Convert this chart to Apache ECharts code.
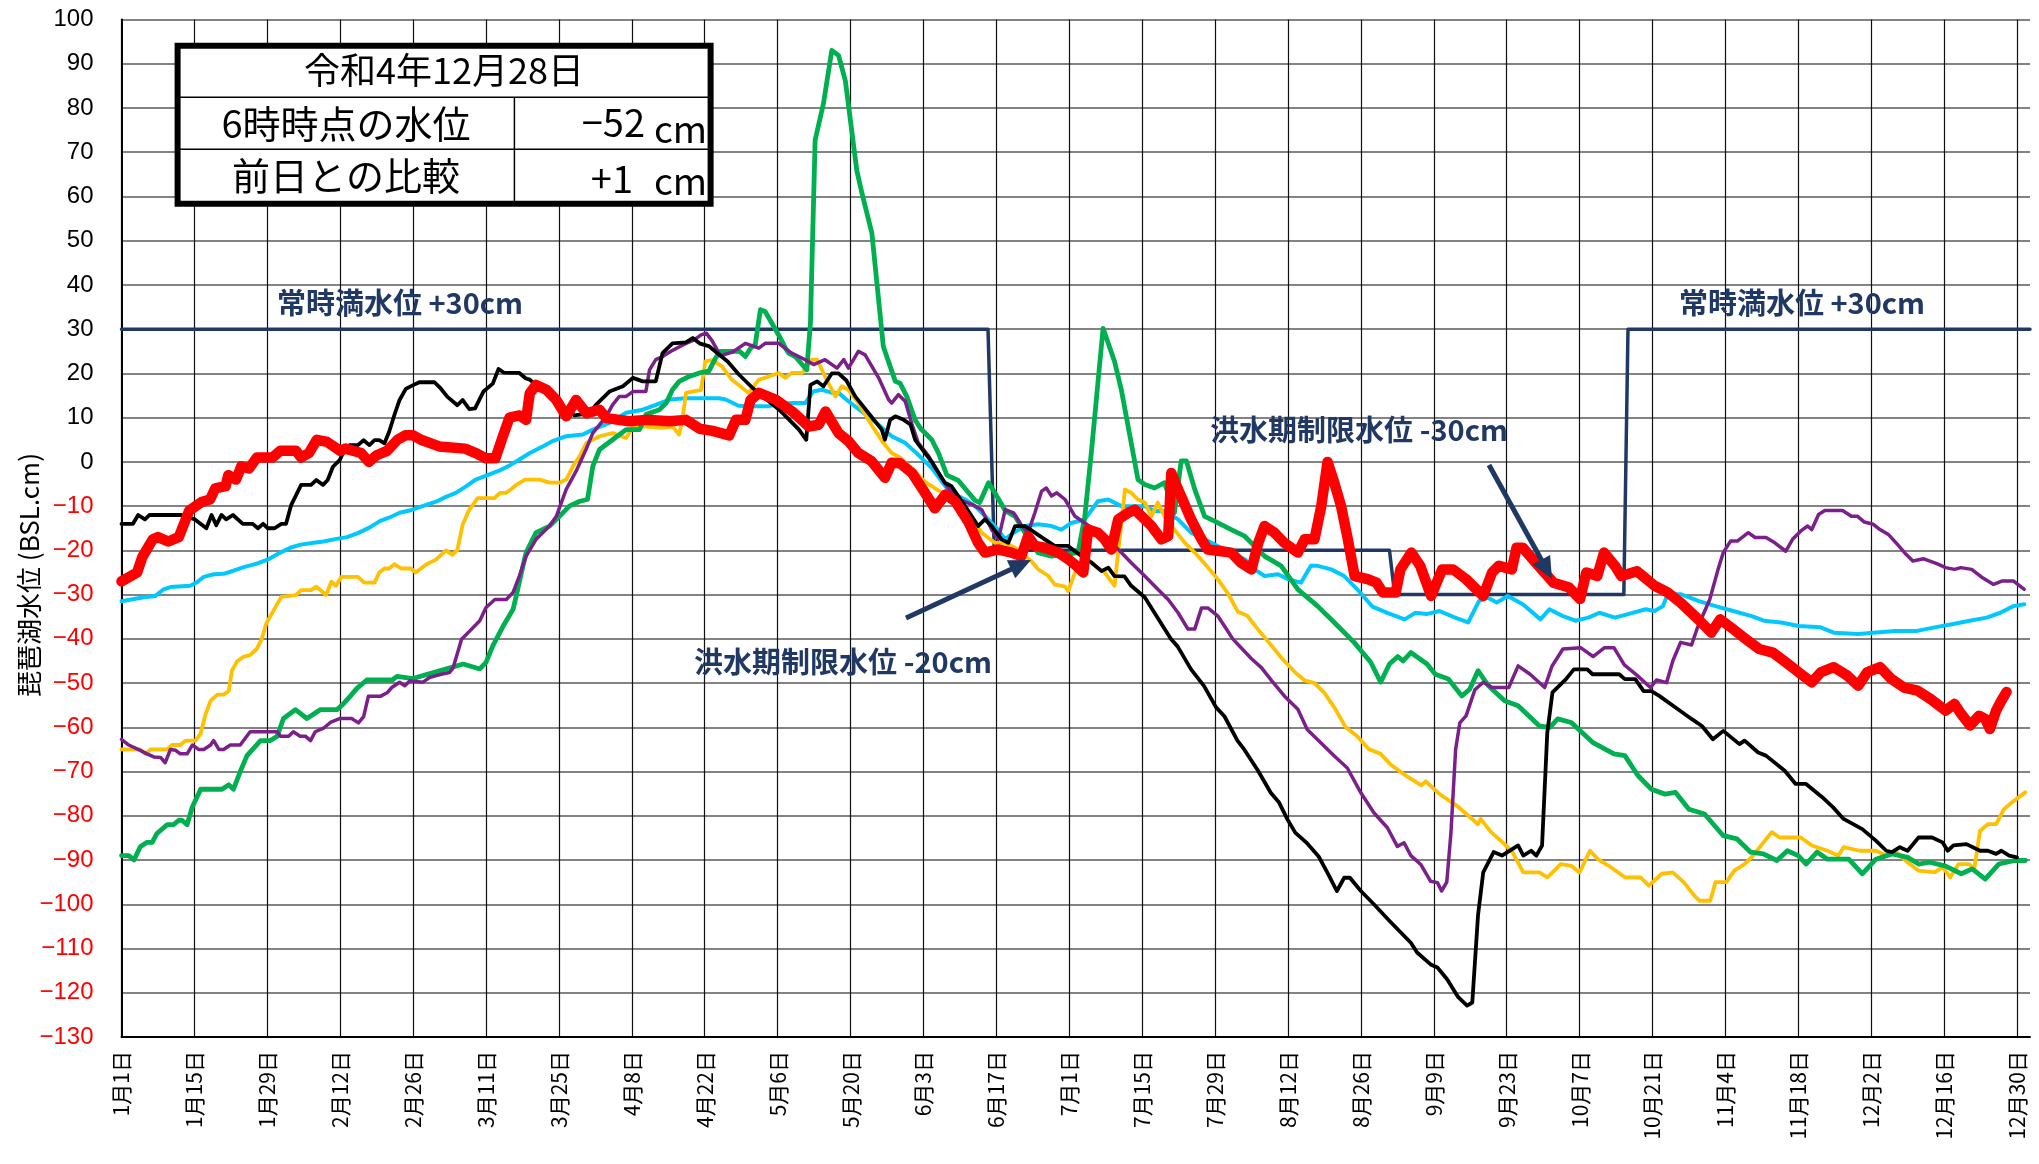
<!DOCTYPE html>
<html><head><meta charset="utf-8">
<script src="https://cdn.jsdelivr.net/npm/echarts/dist/echarts.min.js"></script>
<style>html,body{margin:0;padding:0;background:#fff}#c{width:2039px;height:1164px}</style>
</head><body><div id="c"></div>
<script>
// ---- axis / tick labels ----
const tickLabels = ['1月1日','1月15日','1月29日','2月12日','2月26日','3月11日','3月25日','4月8日','4月22日','5月6日','5月20日','6月3日','6月17日','7月1日','7月15日','7月29日','8月12日','8月26日','9月9日','9月23日','10月7日','10月21日','11月4日','11月18日','12月2日','12月16日','12月30日'];
const tickStepDays = 14;
const yMin = -130, yMax = 100, yStep = 10;
const xMax = 366.5;

// ---- data: [day index from 1月1日, level cm] ----
const regulation = [[0,30],[166.4,30],[167.6,-20],[243.5,-20],[244.5,-30],[288.5,-30],[289.3,30],[366.5,30]];

const yearRed = [[0,-27],[3,-25],[4,-21.5],[6,-17.5],[7,-17],[9,-18],[11,-17],[13,-11],[15.5,-9],[17,-8.5],[18,-6],[20,-5.5],[20.5,-3],[22,-4],[23,-1],[24.5,-1.5],[26,1],[29,1],[30.5,2.5],[33.5,2.5],[34.5,1],[36,2],[37.5,5],[39.5,4.5],[42,2.5],[43,3],[46,2],[47.5,0],[49,1.5],[51,2.5],[53,5],[54.5,6],[56,6],[57.5,5],[61,3.5],[66,3],[68,2],[70,0.8],[71.8,0.8],[73.3,6],[74.5,10],[76.4,10.5],[77.7,9.5],[78.4,15.5],[79.6,17.4],[81.6,16.3],[83.5,14],[85.4,10.3],[87.3,14],[89.3,11],[91.8,11.8],[93.1,9.9],[97.5,9.2],[100.7,9.5],[105.2,9.2],[108.4,9.5],[111,7.5],[113.5,7],[116.7,6],[118,9.5],[119.8,9.5],[120.8,14],[122.4,15.6],[125.6,14.1],[128.8,11.4],[132,8],[133.9,8.4],[135.2,11.4],[137.7,6.5],[139.6,4.7],[141.5,2],[144,0.2],[146.6,-3.6],[147.9,-0.2],[149.5,-0.3],[151.8,-2.5],[154.3,-7],[156.2,-10.5],[158.2,-7.4],[160.1,-8.9],[162.6,-13.5],[164.5,-18.3],[165.8,-20.5],[168.3,-19.8],[170.9,-20.5],[172.8,-21.3],[174.1,-16.8],[175.4,-19],[177.3,-19.4],[179.9,-20.5],[181.8,-22],[183.1,-23.2],[184.7,-25],[185.6,-15.3],[187.5,-16],[188.8,-17.5],[190.1,-19.8],[191.4,-13],[193.3,-11.5],[194.6,-10.8],[195.9,-12.3],[197.8,-14.5],[199.7,-17.5],[201,-16.8],[201.6,-2.5],[202.9,-6.2],[205.4,-13],[207.4,-17.5],[208.6,-19.8],[211.2,-20.2],[213.1,-20.5],[215,-22.8],[217,-24.3],[218.3,-18.3],[219.5,-14.5],[221.4,-16],[223.3,-18.3],[225.9,-20.5],[227.2,-17.5],[229.1,-17.5],[230.4,-10],[231.6,0],[232.9,-4.7],[234.2,-10],[235.5,-17.5],[236.8,-25.8],[239.3,-26.5],[241,-27.3],[242.2,-29.5],[244.7,-29.5],[245.6,-24.3],[247.7,-20.5],[249.4,-23.5],[251.5,-30.3],[253.6,-24.3],[255.7,-24.3],[258.2,-26.5],[261.5,-30.3],[263.2,-25],[264.5,-23.5],[267,-24.3],[267.9,-19.4],[269.1,-19.4],[271.6,-22.8],[275,-27.3],[278,-28.4],[280.1,-31],[281.3,-25],[283.4,-25.8],[284.7,-20.5],[286.8,-23.5],[288,-25.8],[291,-24.7],[294.4,-28],[296.9,-29.5],[299.4,-31.8],[302.8,-35.6],[305.3,-38.6],[307,-35.6],[309.5,-37.8],[312,-40.1],[314.5,-42.3],[317.1,-43.1],[319.6,-45.3],[322.9,-48.3],[324.6,-49.8],[326.3,-47.6],[328.8,-46.4],[331.4,-48.3],[333.5,-50.6],[335.2,-47.6],[337.7,-46.4],[339.8,-49],[342.3,-51],[344.9,-51.7],[347.4,-53.6],[350.3,-56.2],[352,-54.7],[353.3,-57],[355,-59.6],[356.7,-57.4],[357.9,-58.1],[358.8,-60.4],[360,-56.2],[361,-54],[362,-52]];

const yearBlack = [[0,-14],[2.2,-14],[3.2,-12],[4.5,-13],[5.4,-12],[11.5,-12],[14.1,-13],[16.3,-15],[17.3,-12],[18.2,-14.3],[19.2,-12],[20.1,-13],[21.4,-12],[23.3,-14],[25.2,-14],[26.2,-15],[27.2,-14],[28.1,-15],[29.4,-15],[30.7,-14],[31.6,-14],[32.6,-9.7],[34.5,-5.2],[36.4,-5.2],[37.4,-4.1],[38.7,-5.2],[39.6,-4.1],[40.6,-1.1],[41.9,0.4],[42.5,1.9],[43.8,3.8],[45.4,3.8],[46.5,4.9],[47.6,3.8],[48.6,4.9],[49.5,4.9],[50.5,4.2],[51.4,6.8],[52.4,10.6],[53.4,14],[54.6,16.5],[55.9,17.3],[57.2,18],[60.1,18],[61.3,16.6],[62.6,14.7],[64.5,12.8],[65.5,14],[66.8,11.9],[67.9,12.1],[69.5,15.9],[71.3,17.7],[72.4,21],[73.4,20.2],[76.4,20.1],[77.6,18.9],[78.4,18.6],[83,14],[87,10.5],[90,11],[91.1,12.9],[93.7,15.9],[96.3,17.1],[98.2,19],[100.1,18.2],[102.6,18.2],[103.9,24.6],[105.8,26.8],[108.4,27],[109.7,28],[111,26.8],[112.9,26.1],[114.8,24.2],[116.4,22.7],[118.6,19.7],[121.2,16.7],[126.3,11.8],[130.1,7.3],[131.5,5],[132.3,17.4],[133.6,18.2],[134.8,17.1],[136.4,20],[137.7,20],[139.2,18.4],[140.9,14.8],[143.4,11.1],[146,7.3],[146.6,5],[147.6,9.5],[148.6,10.3],[150.2,9.5],[151.5,8.5],[152.4,5],[155.6,0],[158.1,-4.7],[159.4,-5.5],[162,-10],[164.5,-14.5],[165.8,-13],[167.1,-14.5],[169,-17.5],[170.3,-18.3],[171.6,-14.5],[173.5,-14.5],[175.4,-16],[177.3,-17.5],[179.2,-19],[181.8,-19],[183.1,-20.2],[184.4,-21.3],[186.3,-22.8],[188.2,-24.7],[189.5,-23.9],[190.7,-25.8],[192.6,-25.9],[193.9,-28],[196.5,-30.6],[199,-35.3],[201.5,-40],[202.8,-41.7],[205.4,-46.9],[207.9,-50.7],[210.2,-55.5],[211.8,-57.5],[214.3,-63],[215.6,-65],[218.2,-69.7],[220.7,-74.8],[222.3,-77],[223.9,-80.8],[225.4,-83.8],[227.5,-86],[229.9,-89.2],[231.6,-92.9],[233.4,-97],[234.8,-94],[235.9,-94],[238,-97],[240.5,-100],[243.7,-104],[247.6,-108.7],[248.8,-110.9],[251.4,-113.6],[252.7,-114.3],[254.6,-117],[256.7,-121],[258.4,-122.9],[259.4,-122.2],[260.5,-102.5],[261.5,-92.8],[263.5,-88.2],[265.1,-89],[268.2,-86.7],[269.2,-89],[270.7,-87.9],[271.7,-89],[272.8,-86.7],[273.8,-61.2],[274.8,-52.1],[277.4,-49.1],[278.9,-46.9],[281.5,-46.9],[282.5,-48],[287.6,-48],[288.7,-49.1],[290.7,-49.1],[292.3,-51.8],[293.8,-51.8],[295.3,-52.9],[298.9,-55.9],[301.5,-58.1],[303.5,-59.7],[305.6,-62.7],[307.6,-60.8],[310.7,-63.8],[311.7,-63],[314.3,-65.7],[315.8,-66.4],[319.4,-69.8],[321.5,-72.8],[323.5,-72.8],[326.6,-75.8],[328.7,-78.1],[330.7,-80.7],[334.3,-83],[336.9,-85.6],[338.9,-87.9],[340,-88.2],[341.5,-87.1],[343,-87.9],[345.1,-84.9],[347.7,-84.9],[349.7,-86],[350.7,-87.9],[351.8,-86.7],[354.3,-86.4],[356.9,-87.9],[358.4,-87.9],[360,-88.6],[361,-87.9],[362.5,-89],[364,-89.4]];

const yearGreen = [[0,-89],[1.4,-89],[2.4,-90],[3.6,-87],[4.9,-86],[5.9,-86],[6.8,-84],[8.8,-82],[10,-82],[11,-81],[11.6,-81],[12.6,-82],[13.6,-78],[15.2,-74],[19.3,-74],[20.6,-73],[21.5,-74],[22.8,-70],[24.1,-66.4],[25.4,-64.7],[26.7,-63],[28.6,-63],[29.9,-62],[31.1,-58],[33.4,-56],[35.6,-58],[38.2,-56],[41.4,-56],[42.6,-54.7],[43.9,-53],[45.2,-51.2],[47.1,-49.3],[52,-49.3],[52.9,-48.5],[56,-49],[57.9,-48.3],[62.4,-46.8],[65.6,-45.7],[68.8,-46.8],[70,-45.3],[71.3,-41.6],[73.3,-37.1],[75.2,-33.3],[75.8,-30.3],[77.1,-23.5],[77.7,-20.5],[79.6,-16],[82.2,-14.5],[84.1,-12.3],[86,-10],[88,-8.9],[89.5,-8.5],[90.5,-1],[91.8,2.8],[94.3,5],[96.9,7.3],[99.5,7.3],[100.7,10.7],[103.3,11.8],[104.6,13.3],[105.8,16.3],[107.1,18.2],[109,19.3],[111,20.1],[112.8,20.5],[114.1,23.5],[115,25],[118.7,25],[119.8,23.8],[120.8,25.7],[121.7,26.5],[122.7,34.4],[123.6,34],[126.2,28.7],[127.5,25.7],[128.1,24.6],[129.4,23.8],[130.7,22],[131.6,20.8],[132.3,31.4],[133.2,72.7],[134.8,81],[136.4,93],[137.7,91.9],[139,86.2],[141.2,65.9],[142.2,60.7],[144.1,51.7],[146.3,26.1],[148.6,18.2],[149.5,17.8],[150.8,14.8],[152.4,9.5],[153.5,7.5],[155.6,5],[156.9,2],[158.5,-3],[160.7,-4.2],[163.9,-8.7],[164.8,-9.2],[166.5,-4.7],[167.7,-7],[169.7,-11],[171.6,-12.3],[173.5,-16],[176,-20.5],[178.6,-21.3],[181.2,-20.9],[183.7,-20.5],[185,-12.3],[186.3,2.8],[187.5,17.8],[188.5,30.2],[190.7,22.7],[192,16.3],[193.9,4.3],[195.2,-4],[196.5,-5.1],[198.4,-5.9],[200.3,-4.7],[202.2,-11.5],[203.5,0.2],[204.5,0.2],[206.1,-6.2],[208,-12.3],[209.9,-13.4],[213.1,-15.3],[215.7,-16.8],[219.5,-21.3],[222.7,-23.5],[225.9,-28.8],[229.7,-32.6],[232.9,-36.3],[236.7,-40.8],[239.9,-45.3],[241.8,-49.8],[243.5,-45.7],[245.1,-44],[246.1,-45],[247.6,-43.1],[250.7,-45.7],[252.3,-48],[254.8,-49.1],[257.4,-52.9],[258.9,-51.4],[260.5,-47.2],[262.5,-50.6],[265.6,-54],[268.2,-55.1],[272.3,-59.7],[274.3,-60],[275.8,-58.1],[278.4,-58.9],[282.5,-63.4],[286.6,-66],[288.7,-66.4],[291.2,-70.9],[293.8,-74],[296.4,-75.1],[298.4,-74.7],[301,-78.5],[304,-79.6],[307.6,-84.5],[310.2,-85.2],[312.8,-88.2],[315.3,-88.6],[317.9,-90.1],[319.9,-87.9],[322,-89],[323.5,-90.9],[325.6,-88.2],[327.6,-89.8],[331.7,-89.8],[334.3,-93.1],[336.9,-89.8],[340,-88.6],[343,-89.4],[345.1,-90.9],[347.2,-90.5],[350.2,-91.3],[353.3,-93.1],[355.4,-92],[357.9,-94.3],[360.5,-90.9],[363.6,-90.1],[365.6,-90.1]];

const yearPurple = [[0,-62.7],[1.4,-64],[3.6,-65.2],[4.9,-66],[6.2,-66.7],[7.5,-66.8],[8.4,-68],[9.4,-65],[10.4,-65.2],[11.3,-66],[12.6,-66],[13.6,-64],[14.8,-65],[15.8,-65],[17.1,-64],[17.7,-63],[18.7,-65],[19.6,-65],[20.9,-64],[22.8,-64],[24.7,-61],[29.9,-61],[30.5,-62],[32.1,-62],[33,-61],[34.3,-62],[35.3,-62],[36.3,-63],[37.2,-61],[38.8,-60.2],[40.1,-58.9],[42,-58],[44.2,-58],[45.5,-59],[46.5,-57.6],[47.4,-53],[49.7,-53],[51,-52.2],[51.9,-51],[53.4,-49.8],[54.4,-50.6],[55.4,-49.5],[57.9,-49.8],[59.2,-48.7],[61.4,-48],[63,-47.6],[63.7,-46.5],[65.3,-40.1],[66.9,-38.2],[68.8,-35.9],[70,-32.9],[71.7,-31.1],[73.9,-31.1],[75.2,-29.5],[76.4,-25.8],[77.7,-21.3],[79.6,-17.5],[82.2,-14.5],[83.5,-12.3],[85.4,-6.2],[87.3,-2.1],[89.2,2.8],[90.5,6.5],[93.1,10.3],[94.3,12.9],[95.6,14.8],[96.9,14.8],[98.2,15.9],[100.7,15.9],[101.4,20.8],[102.6,23.1],[103.9,23.8],[105.5,25],[108.4,26.8],[110,27.6],[111.3,28.7],[112.3,29.1],[113.4,27.4],[115,24],[117.3,24.8],[119.8,26.8],[122.4,25.7],[123.6,26.8],[126.2,26.8],[128.7,24.6],[131.3,23.1],[132.9,22],[135.1,23.1],[137.4,21.2],[138.7,23.1],[139.6,21.2],[141.5,25],[142.8,24.2],[145.4,19],[147.3,14.1],[147.9,13.3],[149.2,15.2],[150.5,13.7],[151.8,8.5],[153,4.3],[155,1.3],[156.9,-2.5],[158.8,-6],[160.7,-8.5],[163.3,-9.6],[165.2,-10.8],[167.1,-15.3],[168.4,-17.5],[169.7,-10.8],[171.3,-11.5],[172.9,-14.5],[174.1,-16],[175.4,-11.5],[176.7,-6.6],[177.6,-5.9],[178.6,-7.7],[179.6,-7],[181.2,-8.5],[183.1,-12.3],[185,-13.8],[187.5,-16],[190.1,-18.3],[192,-20.5],[193.9,-22.8],[196.5,-25.8],[199,-28.8],[201,-31.1],[202.9,-34.1],[204.8,-37.8],[206.1,-37.8],[207.4,-33],[208.6,-33],[210.5,-34.8],[211.8,-37.1],[213.4,-40],[215,-42],[217,-44.5],[218.9,-46.5],[220.9,-49.5],[223.3,-52.9],[225.9,-55.9],[227.7,-60.5],[230.3,-63.5],[232.9,-66.5],[235.4,-69.2],[238,-74.8],[240.5,-79.3],[243.1,-82.7],[245,-86.9],[246.3,-86.1],[247.6,-89],[249.5,-91],[251.4,-94.8],[252.7,-95.1],[253.5,-97],[254.5,-95],[255.3,-83.8],[256.2,-65],[257,-59],[258.2,-57.4],[259.9,-51.5],[261.5,-49.8],[263.2,-51],[266.4,-51],[268.2,-46.1],[270.5,-48],[273.3,-51],[274.7,-46.2],[276.8,-42.3],[280.2,-42],[282.6,-44],[284.8,-42],[286.6,-42],[288.6,-45.9],[291,-48.2],[293.6,-51],[294.8,-49.3],[296.7,-49.9],[297.9,-45],[299.4,-40.8],[301.5,-41.4],[302.6,-37.6],[305,-31.1],[306.6,-24.3],[307.6,-20.5],[309,-17.9],[310.3,-17.9],[312.4,-16],[313.7,-17.1],[315.8,-17.1],[317.5,-18.3],[319.6,-20.2],[320.9,-17.5],[322.5,-15.6],[323.8,-14.5],[324.6,-15.3],[325.9,-11.9],[327.1,-11],[330.5,-11],[332.2,-12.3],[333.4,-12.3],[334.7,-13.6],[336.4,-14.1],[337.7,-15.3],[339.3,-16.4],[341,-18.6],[342.7,-20.9],[344,-22.4],[346.1,-21.9],[348.6,-23],[350.3,-23.9],[352,-24.3],[353.2,-23.9],[355.3,-24.3],[357.4,-26.2],[359.5,-27.7],[361.2,-26.9],[363.3,-26.9],[365.4,-28.8]];

const yearYellow = [[0,-65],[3.6,-65],[4.6,-66],[5.6,-65],[8.8,-65],[9.7,-64],[11.3,-64],[12.3,-63],[14.2,-63],[15.2,-61.4],[16.1,-57.2],[17.1,-54],[18.4,-52.6],[19.6,-52.6],[20.6,-51.8],[21.2,-47.2],[22.2,-45.1],[23.5,-44],[24.7,-43.7],[26,-42.2],[26.9,-40.1],[27.8,-36.5],[29.1,-33.8],[30.7,-30.5],[33.5,-30.1],[34.5,-29],[36.4,-29],[37.4,-28.2],[39.3,-30.1],[40.3,-27.1],[41.2,-28],[42.2,-26],[45.4,-26],[46.6,-27.3],[48.6,-27.3],[49.5,-25],[50.5,-24.1],[51.4,-24.1],[52.4,-23.1],[53.7,-24.1],[55.6,-24.1],[56.5,-25],[58.5,-23.2],[60.4,-22.1],[62.3,-20],[63.5,-21],[64.5,-19.9],[65.5,-14.2],[66.7,-11],[68.4,-8.2],[71.6,-8.2],[72.7,-7],[73.9,-7],[75.8,-5.2],[77.5,-4],[80.3,-4],[82.2,-4.7],[84.1,-4.7],[85.4,-4],[86.7,-1],[88,1.3],[89.3,4.3],[91.8,5.8],[94.3,6.5],[96.9,5.4],[98.2,8],[100.7,8],[103.9,7.7],[105.8,8],[107.1,6.2],[107.8,10.3],[108.4,15.6],[111.3,16.3],[112.1,22.7],[113.5,23],[115.3,21.6],[117.2,18.6],[120.4,15.6],[122.4,18.6],[123.6,19],[126.2,20.1],[127.5,19],[128.7,20.1],[130.7,20.1],[132.6,23.1],[133.6,23.1],[135.1,19.3],[137.1,14.8],[138.3,17.1],[139.6,16.3],[141.5,13.3],[144,8.4],[146.3,4.3],[147.9,2],[149.5,1],[151.8,-1.5],[154.3,-4.5],[156.9,-6.5],[160.1,-8.5],[163.3,-13],[165.2,-16],[167.7,-18.3],[169.7,-18.3],[171.6,-19.4],[173.5,-21.3],[174.8,-22.5],[176,-24.2],[178,-25.8],[179.2,-27.7],[181.2,-28.2],[181.8,-29.2],[183.1,-25],[184.4,-22.8],[185.6,-22],[187,-23.5],[188.8,-25],[190.7,-28],[192.7,-6.2],[193.9,-7],[195.2,-8.5],[196.5,-9.2],[197.8,-12.3],[199,-9.2],[200.3,-12.3],[202.2,-15.3],[204.2,-18.3],[206.1,-20.5],[208.4,-23.5],[210.5,-26.5],[212.5,-29.8],[214.4,-33.9],[216.2,-34.8],[218.2,-37.8],[220.6,-41.2],[222.9,-44.5],[225.3,-47.5],[227.2,-49.4],[229.1,-50],[231,-52.2],[232.9,-55.5],[235.1,-60],[237.3,-62],[239.5,-64.9],[241.8,-66],[243.7,-68.4],[246.5,-70.8],[249.6,-73.1],[250.5,-72.2],[252.9,-74.9],[256.5,-77.8],[257.9,-79.2],[260.5,-81.9],[261,-80.7],[263,-83.7],[265.6,-86.4],[267.1,-88.2],[269.2,-92.8],[272.3,-92.8],[273.8,-93.9],[274.8,-92.8],[276.4,-90.9],[278.4,-91.3],[280,-92.8],[282,-87.9],[283.5,-89.8],[285.6,-91.3],[288.7,-93.9],[291.7,-93.9],[293.3,-95.8],[295.8,-93.1],[297.9,-92.8],[300,-95],[302,-98],[303,-99.2],[305.1,-99.2],[306.1,-95],[308.2,-95],[309.7,-92.4],[311.7,-90.9],[313.3,-89],[316.9,-83.7],[318.4,-84.9],[322.5,-84.9],[324.6,-86.7],[327.6,-87.9],[329.7,-89],[330.7,-87.1],[333.8,-87.9],[336.9,-87.9],[338.9,-89],[340.5,-87.9],[343,-90.5],[345.1,-92.4],[348.2,-92.8],[349.7,-91.6],[351.2,-93.9],[352.8,-90.9],[354.8,-90.9],[355.8,-92],[356.9,-83.4],[358.4,-81.9],[360,-81.9],[361.5,-78.5],[363,-77],[365.6,-74.7]];

const yearCyan = [[0,-31.5],[2.4,-31],[4.3,-30.6],[6.5,-30.3],[8.1,-28.8],[9.4,-28.3],[13.2,-28],[14.5,-27.2],[15.8,-26],[17.7,-25.4],[19.6,-25.3],[21.5,-24.6],[23.5,-23.8],[26,-23],[28.4,-21.9],[30.5,-20.5],[32.4,-19.4],[34.4,-18.7],[36.9,-18.3],[38.8,-18],[41.3,-17.4],[43.3,-17],[45.4,-16.1],[47.7,-14.8],[49.6,-13.4],[51.6,-12.5],[53.4,-11.5],[55.3,-11],[57.8,-10],[60.4,-9],[62.3,-7.9],[64.2,-7],[66.1,-5.6],[68,-4],[70.3,-3],[72.5,-2],[74.4,-0.9],[76.5,0.6],[78.4,2],[80.9,3.5],[82.8,4.7],[85.4,5.8],[88.6,6.2],[90.5,7.3],[93.7,8.8],[96.9,11.1],[100.1,11.8],[102.6,12.9],[105.2,14.1],[108.4,14.4],[112.2,14.4],[114.7,14.4],[116,14.1],[118.5,12.7],[121.2,12.6],[124.4,12.6],[126.3,13.1],[128.8,13.3],[131.3,13.3],[132.8,15.9],[134.5,16.3],[136.5,15.6],[137.7,15.6],[139.6,13.7],[142.5,11.1],[145.4,8.4],[147.9,5.8],[150.5,4.3],[153,1.6],[155.6,-1.4],[158.4,-5.8],[160.7,-7.7],[162,-8.5],[163.9,-10],[165.2,-11.5],[167.7,-14.5],[169.7,-17.5],[171.3,-16],[173.5,-14.5],[176,-14.1],[178.6,-14.5],[180.5,-15.3],[182.4,-13.8],[185,-13],[187.5,-8.9],[189.5,-8.5],[192,-10],[196.5,-10],[198.4,-11.1],[200.3,-11.1],[202.9,-13],[205.4,-16],[208,-17.5],[210.5,-19],[213.1,-20.5],[215.7,-22],[217.6,-24.3],[219.5,-25.8],[222.1,-25.4],[224,-26.5],[226.5,-27.3],[228.4,-23.5],[229.7,-23.5],[232.3,-24.3],[234.8,-25.8],[237.3,-28.8],[240.2,-32.7],[243.2,-34.2],[246.4,-35.6],[248.5,-34.1],[250.6,-34.4],[253.1,-33.7],[256.1,-35.2],[258.6,-36.3],[260.7,-31.4],[262.4,-30.7],[264.1,-31.8],[266.2,-30.3],[269.1,-32.2],[272.5,-35.6],[274.2,-33.3],[276.7,-34.8],[279.2,-35.9],[281.7,-35.2],[283.8,-34.1],[286.8,-35.2],[289.3,-34.4],[292.7,-33.3],[294.4,-33.7],[296,-32.6],[296.9,-29.9],[299.4,-29.9],[302.8,-31.4],[306.1,-32.6],[309.5,-33.7],[312.9,-34.8],[315.4,-35.9],[318.7,-36.3],[322.1,-37.1],[326.3,-37.4],[328.8,-38.6],[333.5,-38.9],[336.4,-38.6],[340.6,-38.2],[344.8,-38.2],[348.2,-37.4],[351.5,-36.7],[354.9,-35.9],[358.2,-35.2],[360.8,-34.1],[363.3,-32.6],[365.4,-32.2]];

// ---- annotation text ----
const tableTitle = '令和4年12月28日';
const tableRow1 = ['6時時点の水位', '−52', 'cm'];
const tableRow2 = ['前日との比較', '+1', 'cm'];
const noteFull = '常時満水位 +30cm';
const noteFlood30 = '洪水期制限水位 -30cm';
const noteFlood20 = '洪水期制限水位 -20cm';
const yName = '琵琶湖水位 (BSL.cm)';

const NAVY = '#1F3864';
const CJK = '"Noto Sans CJK JP","Noto Sans",sans-serif';

function arrow(x1, y1, x2, y2) {
  const a = Math.atan2(y2 - y1, x2 - x1), L = 22, W = 10;
  const c = Math.cos(a), s = Math.sin(a);
  const bx = x2 - L * c, by = y2 - L * s;
  return [
    {type:'line', z:50, shape:{x1, y1, x2:bx + 2*c, y2:by + 2*s}, style:{stroke:NAVY, lineWidth:5}},
    {type:'polygon', z:50, shape:{points:[[x2,y2],[bx + W*s, by - W*c],[bx - W*s, by + W*c]]}, style:{fill:NAVY}}
  ];
}

function txt(text, x, y, size, opts) {
  return {type:'text', z:60, style:Object.assign({text, x, y, align:'center', verticalAlign:'middle', font:size + 'px ' + CJK, fill:'#000'}, opts || {})};
}

const graphics = [
  {type:'rect', z:55, shape:{x:177.6, y:45.7, width:533, height:158}, style:{fill:'#fff', stroke:'#000', lineWidth:6}},
  {type:'line', z:56, shape:{x1:180, y1:97.3, x2:708, y2:97.3}, style:{stroke:'#000', lineWidth:1.5}},
  {type:'line', z:56, shape:{x1:180, y1:149.3, x2:708, y2:149.3}, style:{stroke:'#000', lineWidth:1.5}},
  {type:'line', z:56, shape:{x1:514.4, y1:97.3, x2:514.4, y2:201}, style:{stroke:'#000', lineWidth:1.5}},
  txt(tableTitle, 444, 70, 36),
  txt(tableRow1[0], 346, 124, 38),
  txt(tableRow1[1], 645, 123, 38, {align:'right'}),
  txt(tableRow1[2], 654, 129, 37, {align:'left'}),
  txt(tableRow2[0], 346, 176, 38),
  txt(tableRow2[1], 633, 179, 38, {align:'right'}),
  txt(tableRow2[2], 654, 181, 37, {align:'left'}),
  txt(noteFull, 400, 303, 29, {font:'bold 29px ' + CJK, fill:NAVY}),
  txt(noteFull, 1802, 303, 29, {font:'bold 29px ' + CJK, fill:NAVY}),
  txt(noteFlood30, 1359, 430, 29, {font:'bold 29px ' + CJK, fill:NAVY}),
  txt(noteFlood20, 843, 662, 29, {font:'bold 29px ' + CJK, fill:NAVY}),
  {type:'text', z:60, x:29, y:575, rotation:Math.PI/2, style:{text:yName, align:'center', verticalAlign:'middle', font:'26px ' + CJK, fill:'#000'}},
  ...arrow(906, 618, 1031, 560),
  ...arrow(1489, 465, 1552, 579)
];

function lineSeries(name, data, color, width, z) {
  return {name, type:'line', data, showSymbol:false, symbol:'none', smooth:false, z, silent:true, animation:false,
    lineStyle:{color, width, cap:'round', join:'round'}};
}

const chart = echarts.init(document.getElementById('c'), null, {renderer:'canvas'});
chart.setOption({
  animation:false,
  backgroundColor:'#fff',
  grid:{left:121.5, right:9, top:19.5, bottom:127, containLabel:false, outerBoundsMode:'none'},
  xAxis:{
    type:'value', min:0, max:xMax, interval:tickStepDays,
    axisLine:{show:true, onZero:false, lineStyle:{color:'#000', width:2}},
    axisTick:{show:false},
    splitLine:{show:true, showMaxLine:false, lineStyle:{color:'#111', width:1.2}},
    axisLabel:{
      rotate:90, margin:14, color:'#000', fontSize:21, fontFamily:CJK, showMaxLabel:false,
      formatter:(v) => { const i = Math.round(v / tickStepDays); return (Math.abs(v - i * tickStepDays) < 1e-6 && tickLabels[i]) ? tickLabels[i] : ''; }
    }
  },
  yAxis:{
    type:'value', min:yMin, max:yMax, interval:yStep,
    axisLine:{show:true, lineStyle:{color:'#000', width:2}},
    axisTick:{show:false},
    splitLine:{show:true, lineStyle:{color:'#5a5a5a', width:1.6}},
    axisLabel:{
      margin:28, fontSize:24, fontFamily:'"Liberation Sans",Arial,sans-serif',
      color:(v) => Number(v) < 0 ? '#FF0000' : '#000000',
      formatter:(v) => v < 0 ? '\u2212' + Math.abs(v) : String(v)
    }
  },
  series:[
    lineSeries('制限水位', regulation, NAVY, 3.5, 2),
    lineSeries('年A', yearCyan, '#00C8FF', 4, 3),
    lineSeries('年B', yearYellow, '#FFC000', 3.8, 3),
    lineSeries('年C', yearGreen, '#00B050', 4.8, 3),
    lineSeries('年D', yearPurple, '#7B1F8A', 3.5, 3),
    lineSeries('年E', yearBlack, '#000000', 3.8, 3),
    lineSeries('令和4年', yearRed, '#FF0000', 10.5, 4)
  ],
  graphic:graphics
});
</script>
</body></html>
